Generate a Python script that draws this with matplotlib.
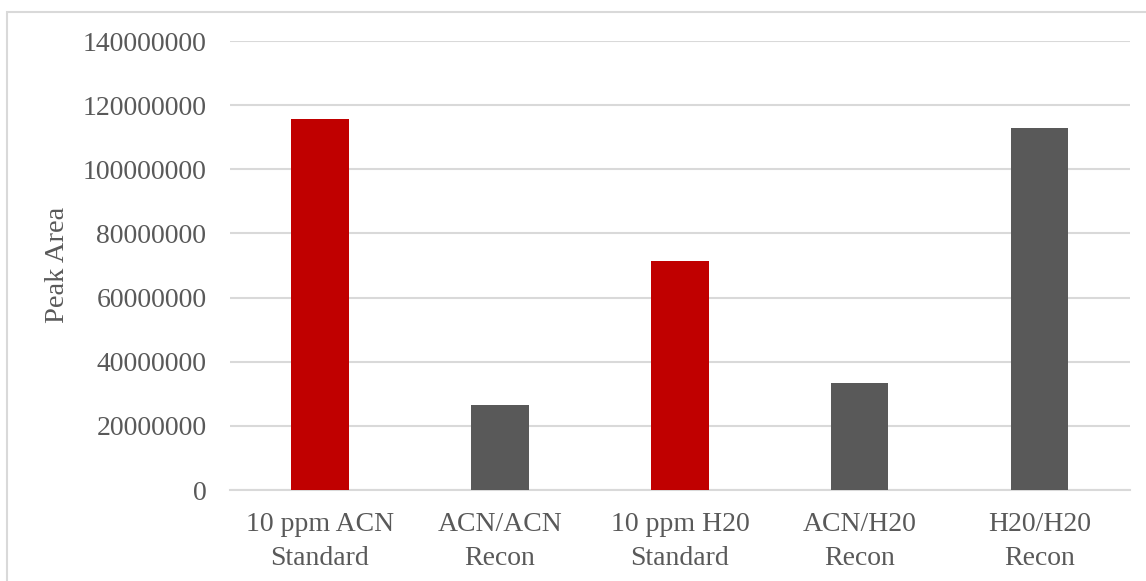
import matplotlib.pyplot as plt
from matplotlib.patches import Rectangle

categories = ["10 ppm ACN\nStandard", "ACN/ACN\nRecon", "10 ppm H20\nStandard",
              "ACN/H20\nRecon", "H20/H20\nRecon"]
peak_area = [115700000, 26500000, 71400000, 33400000, 112900000]
bar_colors = ["#C00000", "#595959", "#C00000", "#595959", "#595959"]
yticks = [0, 20000000, 40000000, 60000000, 80000000, 100000000, 120000000, 140000000]

plt.rcParams['font.family'] = ['Liberation Serif', 'DejaVu Serif']
text_color = "#595959"
grid_color = "#D9D9D9"

fig = plt.figure(figsize=(11.46, 5.81), dpi=100)
ax = fig.add_axes([0.2007, 0.1566, 0.7853, 0.7728])

x = range(len(categories))
ax.bar(x, peak_area, width=0.317, color=bar_colors, zorder=3)

ax.set_xlim(-0.5, len(categories) - 0.5)
ax.set_ylim(0, 140000000)
ax.set_yticks(yticks)
ax.set_yticklabels([str(v) for v in yticks])
ax.set_xticks(list(x))
ax.set_xticklabels(categories, linespacing=1.45)

ax.grid(axis='y', color=grid_color, linewidth=1.5, zorder=0)
for side in ['top', 'right', 'left']:
    ax.spines[side].set_visible(False)
ax.spines['bottom'].set_color(grid_color)
ax.spines['bottom'].set_linewidth(1.5)
ax.tick_params(length=0, labelsize=20, colors=text_color)
ax.tick_params(axis='y', pad=17)
ax.tick_params(axis='x', pad=16)

fig.text(57 / 1146, 1 - 265 / 581, "Peak Area", rotation=90, fontsize=20.5,
         color=text_color, ha='center', va='center')

# chart frame (only top and left edges fall inside the image)
fig.patches.append(Rectangle((6.5 / 1146, -0.05), 1.1, 1.05 - 11.5 / 581,
                             transform=fig.transFigure, fill=False,
                             edgecolor=grid_color, linewidth=1.5))

fig.savefig("out.png", dpi=100)
